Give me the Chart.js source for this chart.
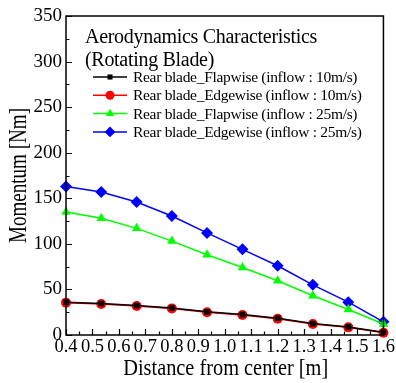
<!DOCTYPE html>
<html>
<head>
<meta charset="utf-8">
<script src="https://cdn.jsdelivr.net/npm/chart.js@4"></script>
<style>
  html, body { margin: 0; padding: 0; background: #fff; }
  #wrap { width: 396px; height: 383px; }
</style>
</head>
<body>
<div id="wrap"><canvas id="momentChart" width="396" height="383"></canvas></div>
<script>
// distance from center [m]
const distance = [0.4, 0.533, 0.667, 0.8, 0.933, 1.067, 1.2, 1.333, 1.467, 1.6];

// momentum [Nm]
const flap10 = [36, 34.5, 32.3, 29.7, 25.4, 22.5, 18.4, 12.5, 8.9, 3];
const edge10 = [35.5, 34, 31.8, 29.2, 24.9, 22, 17.9, 12, 8.4, 2.5];
const flap25 = [135, 128, 117, 103, 88, 74, 59.5, 43, 28, 12];
const edge25 = [163, 157, 146, 130.5, 112, 94, 76, 55, 36, 14.5];

const seriesLabels = [
  'Rear blade_Flapwise (inflow : 10m/s)',
  'Rear blade_Edgewise (inflow : 10m/s)',
  'Rear blade_Flapwise (inflow : 25m/s)',
  'Rear blade_Edgewise (inflow : 25m/s)'
];
const legendTitle = ['Aerodynamics Characteristics', '(Rotating Blade)'];
const xTitle = 'Distance from center [m]';
const yTitle = 'Momentum [Nm]';

const serif = "'Liberation Serif', 'Times New Roman', serif";

function pts(ys) {
  return distance.map((d, i) => ({ x: d, y: ys[i] }));
}

function makeSet(label, ys, color, style, radius) {
  return {
    label: label,
    data: pts(ys),
    borderColor: color,
    backgroundColor: color,
    borderWidth: 1.5,
    pointStyle: style,
    pointRadius: radius,
    pointBorderWidth: 0,
    clip: false,
    tension: 0
  };
}

// condensed text, the original's font is narrow
function narrowText(ctx, text, x, y, size, width) {
  ctx.save();
  ctx.font = size + 'px ' + serif;
  const w = ctx.measureText(text).width;
  ctx.translate(x, y);
  ctx.scale(width / w, 1);
  ctx.fillText(text, 0, 0);
  ctx.restore();
}

// inward ticks, box frame, axis titles and the legend inside the plot
const decorations = {
  id: 'decorations',
  afterDraw(chart) {
    const ctx = chart.ctx;
    const a = chart.chartArea;
    const xs = chart.scales.x;
    const ys = chart.scales.y;
    ctx.save();
    ctx.strokeStyle = '#000';
    ctx.lineWidth = 1.5;
    ctx.strokeRect(a.left, a.top, a.right - a.left, a.bottom - a.top);

    ctx.lineWidth = 1.2;
    ctx.beginPath();
    for (let v = 0; v <= 350; v += 25) {
      const py = Math.round(ys.getPixelForValue(v)) + 0.5;
      const len = v % 50 === 0 ? 6 : 3.5;
      ctx.moveTo(a.left, py);
      ctx.lineTo(a.left + len, py);
    }
    for (let k = 8; k <= 32; k++) {
      const px = Math.round(xs.getPixelForValue(k * 0.05)) + 0.5;
      const len = k % 2 === 0 ? 6 : 3.5;
      ctx.moveTo(px, a.bottom);
      ctx.lineTo(px, a.bottom - len);
    }
    ctx.stroke();

    // axis titles
    ctx.fillStyle = '#000';
    ctx.textAlign = 'center';
    ctx.textBaseline = 'alphabetic';
    narrowText(ctx, xTitle, (a.left + a.right) / 2 + 1, 375, 22.5, 205);

    ctx.save();
    ctx.translate(26, 175.5);
    ctx.rotate(-Math.PI / 2);
    narrowText(ctx, yTitle, 0, 0, 25, 135);
    ctx.restore();

    // legend
    ctx.textBaseline = 'middle';
    ctx.textAlign = 'left';
    ctx.font = '20px ' + serif;
    ctx.letterSpacing = '-0.3px';
    ctx.fillText(legendTitle[0], 85, 38);
    ctx.fillText(legendTitle[1], 85, 61);

    ctx.font = '15.5px ' + serif;
    ctx.letterSpacing = '-0.3px';
    chart.data.datasets.forEach((ds, i) => {
      const yy = 77 + i * 18.3;
      ctx.strokeStyle = ds.borderColor;
      ctx.lineWidth = 1.5;
      ctx.beginPath();
      ctx.moveTo(93, yy);
      ctx.lineTo(127, yy);
      ctx.stroke();
      ctx.fillStyle = ds.backgroundColor;
      Chart.helpers.drawPoint(ctx, {
        pointStyle: ds.pointStyle,
        radius: ds.pointRadius * 0.9,
        borderWidth: 0,
        rotation: 0
      }, 110, yy);
      ctx.fillStyle = '#000';
      ctx.fillText(ds.label, 133, yy + 1);
    });
    ctx.restore();
  }
};

new Chart(document.getElementById('momentChart'), {
  type: 'line',
  data: {
    datasets: [
      makeSet(seriesLabels[0], flap10, '#000000', 'rect', 4),
      makeSet(seriesLabels[1], edge10, '#ff0000', 'circle', 5),
      makeSet(seriesLabels[2], flap25, '#00ff00', 'triangle', 5.5),
      makeSet(seriesLabels[3], edge25, '#0000ff', 'rectRot', 6)
    ]
  },
  options: {
    responsive: false,
    animation: false,
    layout: { padding: { top: 16, right: 10, left: 0, bottom: 0 } },
    plugins: {
      legend: { display: false },
      tooltip: { enabled: false }
    },
    scales: {
      x: {
        type: 'linear',
        min: 0.4,
        max: 1.6,
        afterFit(scale) { scale.height = 48; },
        grid: { display: false, drawTicks: false },
        border: { display: false },
        ticks: {
          stepSize: 0.1,
          autoSkip: false,
          maxRotation: 0,
          padding: 1,
          color: '#000',
          font: { family: serif, size: 18.5 },
          callback: (v) => v.toFixed(1)
        }
      },
      y: {
        min: 0,
        max: 350,
        afterFit(scale) { scale.width = 66; },
        grid: { display: false, drawTicks: false },
        border: { display: false },
        ticks: {
          stepSize: 50,
          padding: 4,
          color: '#000',
          font: { family: serif, size: 19 }
        }
      }
    }
  },
  plugins: [decorations]
});
</script>
</body>
</html>
